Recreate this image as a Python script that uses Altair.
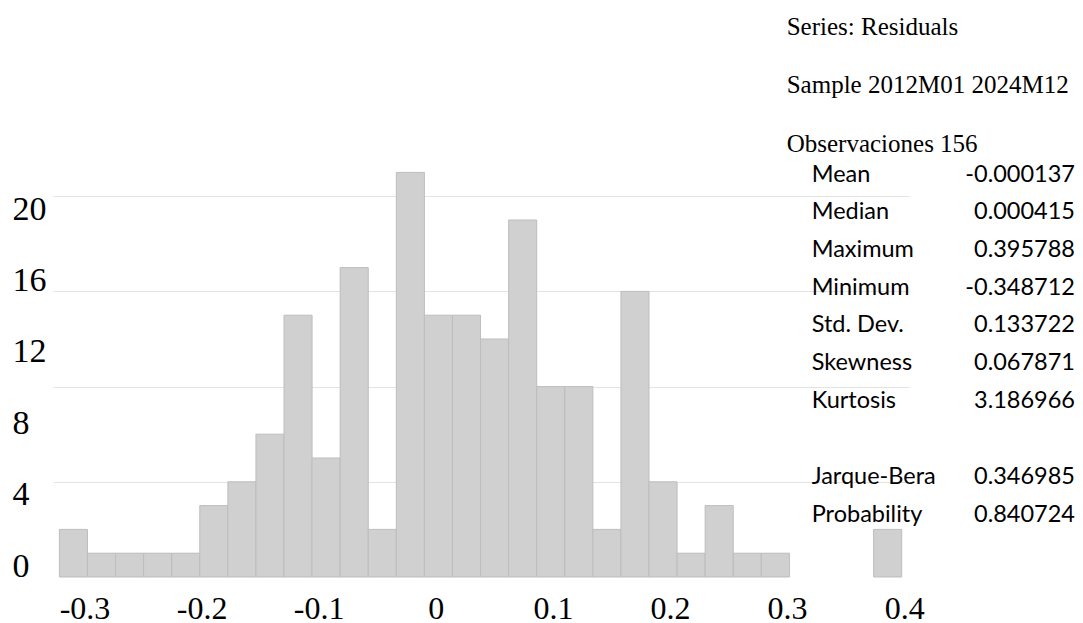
import altair as alt
import pandas as pd

# Residual histogram: lower bin edges (width 0.025) and frequencies
bin_start = [-0.35, -0.325, -0.3, -0.275, -0.25, -0.225, -0.2, -0.175, -0.15, -0.125,
             -0.1, -0.075, -0.05, -0.025, 0.0, 0.025, 0.05, 0.075, 0.1, 0.125,
             0.15, 0.175, 0.2, 0.225, 0.25, 0.275, 0.375]
counts = [2, 1, 1, 1, 1, 3, 4, 6, 11, 5, 13, 2, 17, 11, 11, 10, 15, 8, 8, 2,
          12, 4, 1, 3, 1, 1, 2]
bin_width = 0.025

# Axis labels
x_ticks = [-0.3, -0.2, -0.1, 0, 0.1, 0.2, 0.3, 0.4]
y_ticks = [0, 4, 8, 12, 16, 20]
grid_levels = [4, 8, 12, 16]

# Summary statistics block
header_lines = ["Series: Residuals", "Sample 2012M01 2024M12", "Observaciones 156"]
moment_names = ["Mean", "Median", "Maximum", "Minimum", "Std. Dev.", "Skewness", "Kurtosis"]
moment_values = ["-0.000137", "0.000415", "0.395788", "-0.348712", "0.133722",
                 "0.067871", "3.186966"]
test_names = ["Jarque-Bera", "Probability"]
test_values = ["0.346985", "0.840724"]

hist = pd.DataFrame({"start": bin_start, "count": counts})

SERIF = "Liberation Serif"
SANS = "Lato"
W, H = 856, 476

bars = (
    alt.Chart(hist)
    .transform_calculate(end=f"datum.start + {bin_width}")
    .mark_bar(color="#d0d0d0", stroke="#bdbdbd", strokeWidth=1)
    .encode(
        x=alt.X("start:Q", scale=alt.Scale(domain=[-0.3557, 0.4065], nice=False, zero=False), axis=None),
        x2="end:Q",
        y=alt.Y(
            "count:Q",
            scale=alt.Scale(domain=[0, 20], nice=False),
            axis=alt.Axis(values=grid_levels, labels=False, ticks=False, domain=False,
                          grid=True, gridColor="#e3e3e3", gridWidth=1, title=None),
        ),
        y2=alt.datum(0),
    )
)

x_labels = (
    alt.Chart(pd.DataFrame({"v": x_ticks}))
    .mark_point(opacity=0, size=0)
    .encode(
        x=alt.X(
            "v:Q",
            scale=alt.Scale(domain=[-0.3269, 0.4041], nice=False, zero=False),
            axis=alt.Axis(
                orient="bottom", values=x_ticks, grid=False, ticks=False, tickSize=0, domain=False,
                labelFont=SERIF, labelFontSize=32, labelColor="#000000", labelPadding=16,
                labelFlush=False, labelOverlap=False, title=None,
                labelExpr="datum.value < 0 ? '-' + format(-datum.value, '.1f') : (datum.value == 0 ? '0' : format(datum.value, '.1f'))",
            ),
        )
    )
)

y_labels = (
    alt.Chart(pd.DataFrame({"v": y_ticks}))
    .mark_point(opacity=0, size=0)
    .encode(
        y=alt.Y(
            "v:Q",
            scale=alt.Scale(domain=[-0.6, 26.05], nice=False, zero=False),
            axis=alt.Axis(
                orient="left", values=y_ticks, grid=False, ticks=False, tickSize=0, domain=False,
                labelFont=SERIF, labelFontSize=34, labelColor="#000000", labelAlign="left",
                labelPadding=41, labelFlush=False, labelOverlap=False, format="d", title=None,
            ),
        )
    )
)

one_row = alt.Data(values=[{}])

header = alt.Chart(one_row).mark_text(
    text=header_lines, font=SERIF, fontSize=25, color="#000000",
    align="left", baseline="alphabetic", lineHeight=58.3,
).encode(x=alt.value(733.7), y=alt.value(-66))

moments_left = alt.Chart(one_row).mark_text(
    text=moment_names, font=SANS, fontSize=23.5, color="#000000",
    align="left", baseline="alphabetic", lineHeight=37.7,
).encode(x=alt.value(758.7), y=alt.value(80.7))

moments_right = alt.Chart(one_row).mark_text(
    text=moment_values, font=SANS, fontSize=23.5, color="#000000",
    align="right", baseline="alphabetic", lineHeight=37.7,
).encode(x=alt.value(1022), y=alt.value(80.7))

tests_left = alt.Chart(one_row).mark_text(
    text=test_names, font=SANS, fontSize=23.5, color="#000000",
    align="left", baseline="alphabetic", lineHeight=37.7,
).encode(x=alt.value(758.7), y=alt.value(383))

tests_right = alt.Chart(one_row).mark_text(
    text=test_values, font=SANS, fontSize=23.5, color="#000000",
    align="right", baseline="alphabetic", lineHeight=37.7,
).encode(x=alt.value(1022), y=alt.value(383))

chart = (
    alt.layer(bars, x_labels, y_labels, header, moments_left, moments_right, tests_left, tests_right)
    .resolve_scale(x="independent", y="independent")
    .resolve_axis(x="independent", y="independent")
    .properties(
        width=W, height=H,
        autosize=alt.AutoSizeParams(type="none"),
        padding={"left": 53, "top": 101, "right": 174, "bottom": 46},
        background="#ffffff",
    )
    .configure_view(stroke=None)
)

chart.save("out.html", embed_options={"renderer": "svg", "actions": False})
